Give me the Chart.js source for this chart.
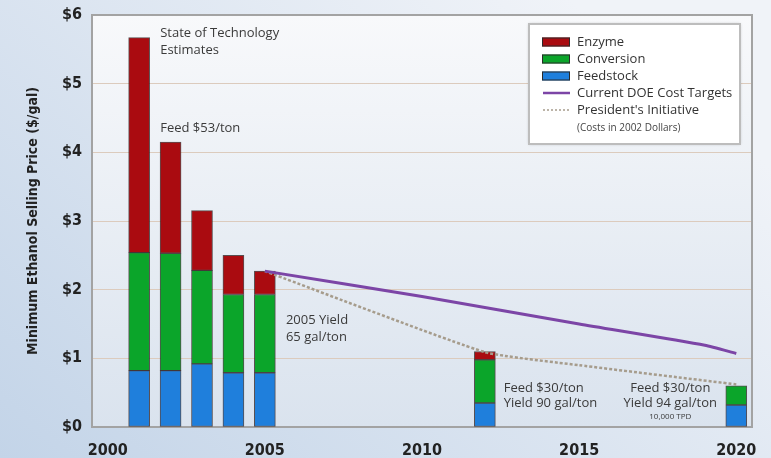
<!DOCTYPE html>
<html>
<head>
<meta charset="utf-8">
<script src="https://cdn.jsdelivr.net/npm/chart.js@4.4.1/dist/chart.umd.min.js"></script>
<style>
html,body{margin:0;padding:0;background:#dfe7f1;}
#wrap{width:771px;height:458px;position:relative;}
</style>
</head>
<body>
<div id="wrap"><canvas id="c" width="771" height="458"></canvas></div>
<script>
// ---- data ----
const years = [2001, 2002, 2003, 2004, 2005, 2012, 2020];
const feedstock = [0.82, 0.82, 0.92, 0.79, 0.79, 0.35, 0.32];
const conversion = [1.72, 1.71, 1.36, 1.14, 1.14, 0.63, 0.28];
const enzyme = [3.13, 1.62, 0.87, 0.57, 0.34, 0.12, 0];
const doeYears = [2005, 2010, 2015, 2019, 2020];
const doeTargets = [2.27, 1.90, 1.50, 1.19, 1.07];
const presYears = [2005, 2012, 2015, 2020];
const presInitiative = [2.27, 1.09, 0.90, 0.62];
const xTicks = [2000, 2005, 2010, 2015, 2020];
const yTicks = [0, 1, 2, 3, 4, 5, 6];
const yTickLabels = ['$0', '$1', '$2', '$3', '$4', '$5', '$6'];

const COL = {enzyme:'#aa0b10', conversion:'#0ba52a', feed:'#1f7fdc', doe:'#7c45a6', pres:'#a69c8c'};
const BOLDC = "'DejaVu Sans Condensed','Liberation Sans Narrow','DejaVu Sans',sans-serif";
const TXT = "'Open Sans','Noto Sans',sans-serif";

function pts(xs, ys){ return xs.map((x,i)=>({x:x, y:ys[i]})); }

const bgPlugin = {
  id:'bg',
  beforeDraw(chart){
    const ctx = chart.ctx, w = chart.width, h = chart.height, a = chart.chartArea;
    ctx.save();
    let g = ctx.createLinearGradient(0, h, w*0.6, -h*0.2);
    g.addColorStop(0, '#c3d4e8');
    g.addColorStop(1, '#f0f3f8');
    ctx.fillStyle = g; ctx.fillRect(0,0,w,h);
    let g2 = ctx.createLinearGradient(0, a.top, 0, a.bottom);
    g2.addColorStop(0, '#f8f9fb');
    g2.addColorStop(1, '#dae3ee');
    ctx.fillStyle = g2; ctx.fillRect(a.left, a.top, a.right-a.left, a.bottom-a.top);
    ctx.restore();
  },
  beforeDatasetsDraw(chart){
    const ctx = chart.ctx, a = chart.chartArea;
    ctx.save();
    ctx.strokeStyle = '#a3a3a3'; ctx.lineWidth = 2;
    ctx.strokeRect(a.left, a.top, a.right-a.left, a.bottom-a.top);
    ctx.restore();
  }
};

const annoPlugin = {
  id:'anno',
  afterDatasetsDraw(chart){
    const ctx = chart.ctx, xs = chart.scales.x, ys = chart.scales.y;
    ctx.save();
    ctx.fillStyle = '#3a3a3a';
    ctx.textBaseline = 'middle';
    function t(str, xv, yv, align, size){
      ctx.font = (size||13) + 'px ' + TXT;
      ctx.textAlign = align || 'left';
      ctx.fillText(str, xs.getPixelForValue(xv), ys.getPixelForValue(yv));
    }
    t('State of Technology', 2001.67, 5.73);
    t('Estimates', 2001.67, 5.48);
    t('Feed $53/ton', 2001.67, 4.35);
    t('2005 Yield', 2005.67, 1.56);
    t('65 gal/ton', 2005.67, 1.31);
    t('Feed $30/ton', 2012.6, 0.57);
    t('Yield 90 gal/ton', 2012.6, 0.35);
    t('Feed $30/ton', 2017.9, 0.57, 'center');
    t('Yield 94 gal/ton', 2017.9, 0.35, 'center');
    t('10,000 TPD', 2017.9, 0.145, 'center', 8);
    ctx.restore();
  }
};

const legendPlugin = {
  id:'customLegend',
  afterDraw(chart){
    const ctx = chart.ctx;
    ctx.save();
    ctx.fillStyle = '#ffffff';
    ctx.shadowColor = 'rgba(0,0,0,0.25)'; ctx.shadowBlur = 3;
    ctx.fillRect(529, 24, 211, 120);
    ctx.shadowBlur = 0; ctx.shadowColor = 'transparent';
    ctx.strokeStyle = '#bdbdbd'; ctx.lineWidth = 2;
    ctx.strokeRect(529, 24, 211, 120);
    const ds = chart.data.datasets;
    const rows = [
      {ds: ds[4], y: 42, kind:'box'},
      {ds: ds[3], y: 59, kind:'box'},
      {ds: ds[2], y: 76, kind:'box'},
      {ds: ds[0], y: 93, kind:'line'},
      {ds: ds[1], y: 110, kind:'dash'}
    ];
    ctx.textBaseline = 'middle'; ctx.textAlign = 'left';
    rows.forEach(r=>{
      if (r.kind === 'box'){
        ctx.fillStyle = r.ds.backgroundColor;
        ctx.fillRect(542, r.y-4.5, 28, 9);
        ctx.strokeStyle = '#2a2a2a'; ctx.lineWidth = 1;
        ctx.strokeRect(542.5, r.y-4, 27, 8);
      } else {
        ctx.strokeStyle = r.ds.borderColor;
        ctx.lineWidth = r.kind === 'line' ? 2.5 : 1.5;
        ctx.setLineDash(r.kind === 'dash' ? [2,2] : []);
        ctx.beginPath(); ctx.moveTo(543, r.y); ctx.lineTo(570, r.y); ctx.stroke();
        ctx.setLineDash([]);
      }
      ctx.fillStyle = '#333';
      ctx.font = '13px ' + TXT;
      ctx.fillText(r.ds.label, 577, r.y);
    });
    ctx.font = '10px ' + TXT;
    ctx.fillStyle = '#444';
    ctx.fillText('(Costs in 2002 Dollars)', 577, 128);
    ctx.restore();
  }
};

const barCommon = {type:'bar', barThickness:21, borderWidth:1, borderColor:'rgba(40,25,25,0.75)', borderSkipped:false, order:1, stack:'bars'};

new Chart(document.getElementById('c'), {
  data: {
    datasets: [
      {type:'line', label:'Current DOE Cost Targets', data: pts(doeYears, doeTargets), borderColor: COL.doe, borderWidth: 3, pointRadius: 0, tension: 0.2, order: 0, stack:'doe', fill:false},
      {type:'line', label:"President's Initiative", data: pts(presYears, presInitiative), borderColor: COL.pres, borderWidth: 2.5, borderDash:[3,2], pointRadius: 0, tension: 0.15, order: 0, stack:'pres', fill:false},
      Object.assign({label:'Feedstock', data: pts(years, feedstock), backgroundColor: COL.feed}, barCommon),
      Object.assign({label:'Conversion', data: pts(years, conversion), backgroundColor: COL.conversion}, barCommon),
      Object.assign({label:'Enzyme', data: pts(years, enzyme), backgroundColor: COL.enzyme}, barCommon)
    ]
  },
  options: {
    responsive:false, animation:false,
    layout:{padding:{top:15, right:19, left:0, bottom:0}},
    plugins:{legend:{display:false}, tooltip:{enabled:false}},
    scales:{
      x:{
        type:'linear', min:1999.5, max:2020.5, stacked:true, offset:false,
        afterBuildTicks(scale){ scale.ticks = xTicks.map(v=>({value:v})); },
        afterFit(scale){ scale.height = 31; scale.paddingLeft = 0; scale.paddingRight = 0; },
        grid:{display:false, drawTicks:false, offset:false},
        border:{display:false},
        ticks:{font:{family:BOLDC, size:16, weight:'bold'}, color:'#222', padding:14, maxRotation:0, callback:(v)=>String(v)}
      },
      y:{
        min:0, max:6, stacked:true,
        afterBuildTicks(scale){ scale.ticks = yTicks.map(v=>({value:v})); },
        afterFit(scale){ scale.width = 92; scale.paddingTop = 0; scale.paddingBottom = 0; },
        grid:{color:'#dccbbd', lineWidth:1, drawTicks:false},
        border:{display:false},
        ticks:{font:{family:BOLDC, size:16, weight:'bold'}, color:'#222', padding:10, callback:(v)=>yTickLabels[yTicks.indexOf(v)]},
        title:{display:true, text:'Minimum Ethanol Selling Price ($/gal)', font:{family:BOLDC, size:14, weight:'bold'}, color:'#222', padding:{top:25, bottom:0}}
      }
    }
  },
  plugins:[bgPlugin, annoPlugin, legendPlugin]
});
</script>
</body>
</html>
